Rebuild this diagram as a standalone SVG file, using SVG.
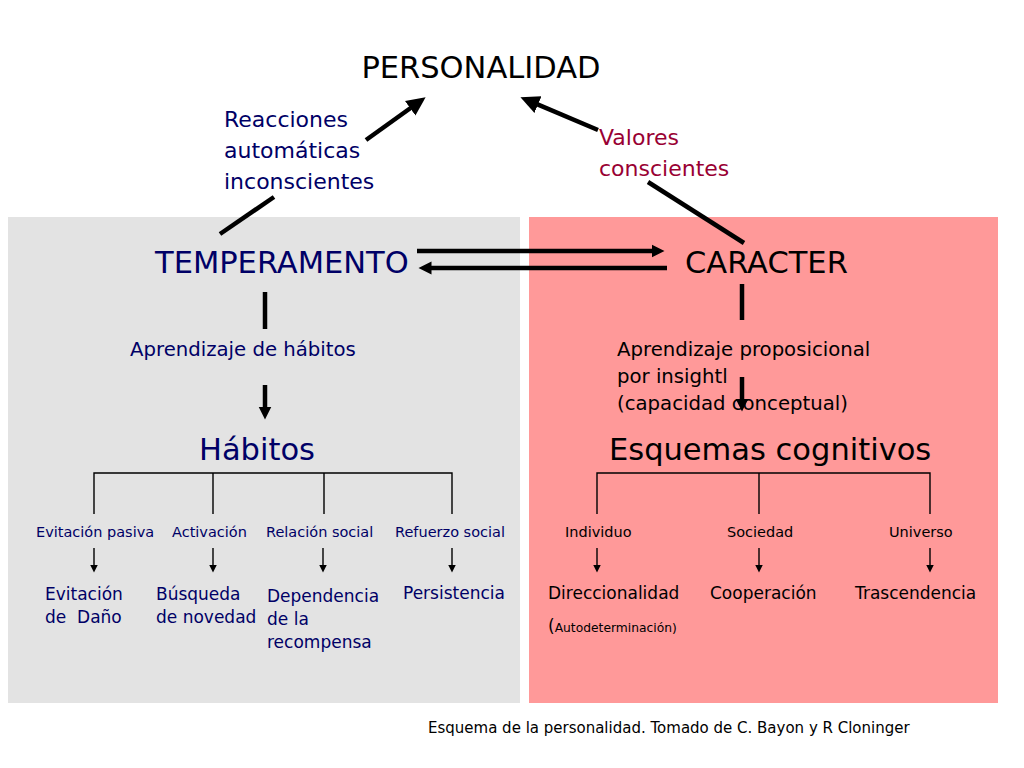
<svg xmlns="http://www.w3.org/2000/svg" width="1024" height="768" viewBox="0 0 1024 768">
<style>
text{font-family:"DejaVu Sans","Liberation Sans",sans-serif}
.nv{fill:#000066}
.bk{fill:#000000}
.rd{fill:#990033}
.t30{font-size:30.5px}
.t22{font-size:22px}
.t20{font-size:19.7px}
.t17{font-size:17px}
.t14{font-size:14.5px}
.thick{stroke:#000;stroke-width:4.5;fill:none}
.thin{stroke:#000;stroke-width:1.4;fill:none}
</style>
<defs>
<marker id="big" markerUnits="userSpaceOnUse" markerWidth="20" markerHeight="20" refX="0.5" refY="10" orient="auto">
<path d="M0,1 L19,10 L0,19 z" fill="#000"/>
</marker>
<marker id="mid" markerUnits="userSpaceOnUse" markerWidth="14" markerHeight="14" refX="0.5" refY="7" orient="auto">
<path d="M0,0.5 L13,7 L0,13.5 z" fill="#000"/>
</marker>
<marker id="sm" markerUnits="userSpaceOnUse" markerWidth="9" markerHeight="9" refX="0.5" refY="4.5" orient="auto">
<path d="M0,0.5 L8,4.5 L0,8.5 z" fill="#000"/>
</marker>
</defs>
<rect width="1024" height="768" fill="#ffffff"/>
<g id="panels">
<rect x="8" y="217" width="512" height="486" fill="#e3e3e3"/>
<rect x="529" y="217" width="469" height="486" fill="#ff9999"/>
</g>
<g id="connectors">
<line class="thick" x1="366" y1="140" x2="410.6" y2="108" marker-end="url(#big)"/>
<line class="thick" x1="598" y1="130" x2="537.5" y2="104.4" marker-end="url(#big)"/>
<line class="thick" x1="220" y1="234" x2="274" y2="197"/>
<line class="thick" x1="744" y1="243" x2="648" y2="182"/>
<line class="thick" x1="417" y1="251" x2="652" y2="251" marker-end="url(#mid)"/>
<line class="thick" x1="667" y1="268" x2="431" y2="268" marker-end="url(#mid)"/>
<line class="thick" x1="265" y1="292" x2="265" y2="329"/>
<line class="thick" x1="265" y1="385" x2="265" y2="407" marker-end="url(#mid)"/>
<line class="thick" x1="742" y1="284" x2="742" y2="320"/>
<line class="thick" x1="742" y1="377" x2="742" y2="399" marker-end="url(#mid)"/>
<path class="thin" d="M94,514 V473 H452 V514 M213,473 V514 M324,473 V514"/>
<path class="thin" d="M597,514 V473 H930 V514 M759,473 V514"/>
<line class="thin" x1="94" y1="548" x2="94" y2="565" marker-end="url(#sm)"/>
<line class="thin" x1="213" y1="548" x2="213" y2="565" marker-end="url(#sm)"/>
<line class="thin" x1="323" y1="548" x2="323" y2="565" marker-end="url(#sm)"/>
<line class="thin" x1="452" y1="548" x2="452" y2="565" marker-end="url(#sm)"/>
<line class="thin" x1="597" y1="548" x2="597" y2="565" marker-end="url(#sm)"/>
<line class="thin" x1="759" y1="548" x2="759" y2="565" marker-end="url(#sm)"/>
<line class="thin" x1="930" y1="548" x2="930" y2="565" marker-end="url(#sm)"/>
</g>
<g id="personalidad"><text class="bk t30" x="481" y="78" text-anchor="middle">PERSONALIDAD</text></g>
<g id="label-reacciones">
<text class="nv t22" x="224" y="127">Reacciones</text>
<text class="nv t22" x="224" y="158">automáticas</text>
<text class="nv t22" x="224" y="189">inconscientes</text>
</g>
<g id="label-valores">
<text class="rd t22" x="599" y="145">Valores</text>
<text class="rd t22" x="599" y="176">conscientes</text>
</g>
<g id="temperamento"><text class="nv t30" x="155" y="273">TEMPERAMENTO</text></g>
<g id="caracter"><text class="bk t30" x="685" y="273">CARACTER</text></g>
<g id="aprendizaje-habitos"><text class="nv t20" x="130" y="356">Aprendizaje de hábitos</text></g>
<g id="aprendizaje-proposicional">
<text class="bk t20" x="617" y="356">Aprendizaje proposicional</text>
<text class="bk t20" x="617" y="383">por insightl</text>
<text class="bk t20" x="617" y="410">(capacidad conceptual)</text>
</g>
<g id="habitos"><text class="nv t30" x="199" y="460">Hábitos</text></g>
<g id="esquemas"><text class="bk t30" x="609" y="460">Esquemas cognitivos</text></g>
<g id="evitacion-pasiva"><text class="nv t14" x="36" y="537">Evitación pasiva</text></g>
<g id="activacion"><text class="nv t14" x="172" y="537">Activación</text></g>
<g id="relacion-social"><text class="nv t14" x="266" y="537">Relación social</text></g>
<g id="refuerzo-social"><text class="nv t14" x="395" y="537">Refuerzo social</text></g>
<g id="individuo"><text class="bk t14" x="565" y="537">Individuo</text></g>
<g id="sociedad"><text class="bk t14" x="727" y="537">Sociedad</text></g>
<g id="universo"><text class="bk t14" x="889" y="537">Universo</text></g>
<g id="evitacion-dano">
<text class="nv t17" x="45" y="600">Evitación</text>
<text class="nv t17" x="45" y="623" xml:space="preserve">de  Daño</text>
</g>
<g id="busqueda-novedad">
<text class="nv t17" x="156" y="600">Búsqueda</text>
<text class="nv t17" x="156" y="623">de novedad</text>
</g>
<g id="dependencia-recompensa">
<text class="nv t17" x="267" y="602">Dependencia</text>
<text class="nv t17" x="267" y="625">de la</text>
<text class="nv t17" x="267" y="648">recompensa</text>
</g>
<g id="persistencia"><text class="nv t17" x="403" y="599">Persistencia</text></g>
<g id="direccionalidad">
<text class="bk t17" x="548" y="599">Direccionalidad</text>
<text class="bk t17" x="548" y="632">(<tspan style="font-size:12.3px">Autodeterminación)</tspan></text>
</g>
<g id="cooperacion"><text class="bk t17" x="710" y="599">Cooperación</text></g>
<g id="trascendencia"><text class="bk t17" x="855" y="599">Trascendencia</text></g>
<g id="caption"><text class="bk" style="font-size:15px" x="428" y="733">Esquema de la personalidad. Tomado de C. Bayon y R Cloninger</text></g>
</svg>
